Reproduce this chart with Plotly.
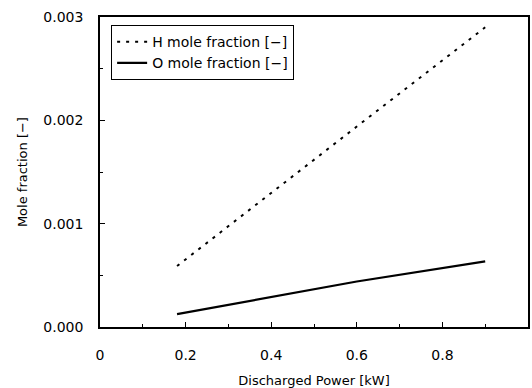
import plotly.graph_objects as go

# Discharged power [kW] and species mole fractions [-]
power_h = [0.18, 0.4, 0.6, 0.9]
h_frac = [0.00059, 0.00130, 0.00194, 0.00290]

power_o = [0.18, 0.4, 0.6, 0.9]
o_frac = [0.000124, 0.000290, 0.000440, 0.000635]

x_ticks = [0, 0.2, 0.4, 0.6, 0.8, 1.0]
x_tick_text = ["0", "0.2", "0.4", "0.6", "0.8", "1"]
y_ticks = [0.000, 0.001, 0.002, 0.003]
y_tick_text = ["0.000", "0.001", "0.002", "0.003"]

font_family = "DejaVu Sans, Liberation Sans, Arial, sans-serif"
text_font = dict(size=14, color="black", family=font_family)
title_font = dict(size=13, color="black", family=font_family)

fig = go.Figure()
fig.add_trace(go.Scatter(
    x=power_h, y=h_frac, mode="lines", name="H mole fraction [−]",
    line=dict(color="black", width=2, dash="3px,6px"),
))
fig.add_trace(go.Scatter(
    x=power_o, y=o_frac, mode="lines", name="O mole fraction [−]",
    line=dict(color="black", width=2.2),
))

axis_common = dict(
    showline=True, linecolor="black", linewidth=1.5, mirror=True,
    ticks="inside", ticklen=5, tickcolor="black", tickwidth=1,
    showgrid=False, zeroline=False, automargin=False,
    tickfont=text_font,
)

fig.update_xaxes(
    range=[0, 1], tickvals=x_ticks, ticktext=x_tick_text,
    ticklabelstandoff=14,
    minor=dict(ticks="inside", dtick=0.1, ticklen=3, tickcolor="black"),
    title=dict(text="Discharged Power [kW]", standoff=14, font=title_font),
    **axis_common,
)
fig.update_yaxes(
    range=[0, 0.003], tickvals=y_ticks, ticktext=y_tick_text,
    ticklabelstandoff=12,
    minor=dict(ticks="inside", dtick=0.0005, ticklen=3, tickcolor="black"),
    **axis_common,
)

# vertical axis title placed as a rotated annotation left of the tick labels
fig.add_annotation(
    text="Mole fraction [−]", textangle=-90,
    xref="paper", yref="paper", x=-0.182, y=0.5,
    xanchor="center", yanchor="middle", showarrow=False,
    font=title_font,
)

fig.update_layout(
    width=532, height=388,
    margin=dict(l=100, r=4, t=17, b=61),
    paper_bgcolor="white", plot_bgcolor="white",
    font=dict(family=font_family, size=14, color="black"),
    legend=dict(
        x=0.026, y=0.974, xanchor="left", yanchor="top",
        bordercolor="black", borderwidth=1, bgcolor="white",
        font=text_font,
        tracegroupgap=0,
    ),
)

fig.write_html("out.html")
